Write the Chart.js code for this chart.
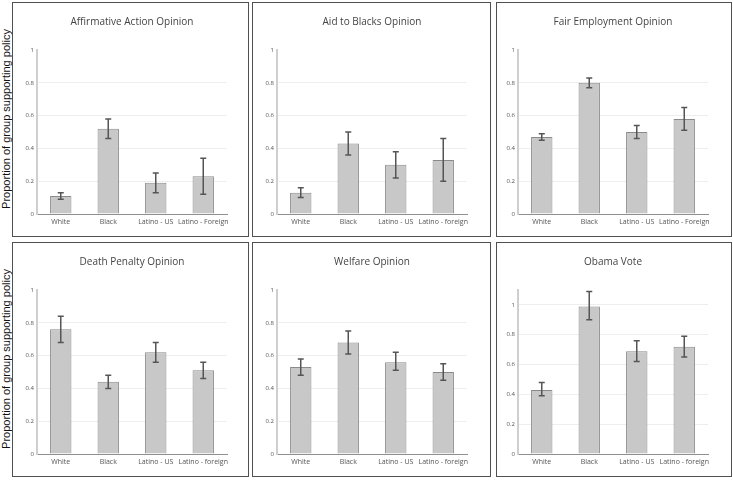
<!DOCTYPE html>
<html>
<head>
<meta charset="utf-8">
<script src="https://cdn.jsdelivr.net/npm/chart.js@4.4.0/dist/chart.umd.min.js"></script>
<style>
  html, body { margin: 0; padding: 0; background: #fff; }
  #wrap { position: relative; width: 733px; height: 481px; overflow: hidden; }
  .panel { position: absolute; box-sizing: border-box; border: 1px solid #505050; background: #fff; }
  .panel canvas { position: absolute; left: 0; top: 0; }
  .ylab { position: absolute; width: 240px; text-align: center; font-family: "Liberation Sans", Arial, sans-serif;
          font-size: 11px; color: #111; transform: translate(-50%, -50%) rotate(-90deg); white-space: nowrap; }
</style>
</head>
<body>
<div id="wrap"></div>
<script>
// ---- data ----
const groupsUpper = ['White', 'Black', 'Latino - US', 'Latino - Foreign'];
const groupsLower = ['White', 'Black', 'Latino - US', 'Latino - foreign'];
const panelTitles = ['Affirmative Action Opinion', 'Aid to Blacks Opinion', 'Fair Employment Opinion',
                     'Death Penalty Opinion', 'Welfare Opinion', 'Obama Vote'];
const yTickValues = [0, 0.2, 0.4, 0.6, 0.8, 1];
const yAxisTitle = 'Proportion of group supporting policy';

const affirmativeMean = [0.11, 0.52, 0.19, 0.23];
const affirmativeLow  = [0.09, 0.46, 0.13, 0.12];
const affirmativeHigh = [0.13, 0.58, 0.25, 0.34];

const aidMean = [0.13, 0.43, 0.30, 0.33];
const aidLow  = [0.10, 0.36, 0.22, 0.20];
const aidHigh = [0.16, 0.50, 0.38, 0.46];

const fairMean = [0.47, 0.80, 0.50, 0.58];
const fairLow  = [0.45, 0.77, 0.46, 0.51];
const fairHigh = [0.49, 0.83, 0.54, 0.65];

const deathMean = [0.76, 0.44, 0.62, 0.51];
const deathLow  = [0.68, 0.40, 0.56, 0.46];
const deathHigh = [0.84, 0.48, 0.68, 0.56];

const welfareMean = [0.53, 0.68, 0.56, 0.50];
const welfareLow  = [0.48, 0.61, 0.51, 0.45];
const welfareHigh = [0.58, 0.75, 0.62, 0.55];

const obamaMean = [0.43, 0.99, 0.69, 0.72];
const obamaLow  = [0.39, 0.90, 0.62, 0.65];
const obamaHigh = [0.48, 1.09, 0.76, 0.79];

const yMaxes = [1, 1, 1, 1, 1, 1.1];

// ---- layout ----
const colLeft  = [12, 252, 496];
const colWidth = [237, 239, 236];
const rowTop   = [2, 242];
const rowHeight = 235;
const colAxis  = [24, 24, 21];   // y-axis width inside canvas
const colPlotW = 190;

const panels = [
  { labels: groupsUpper, mean: affirmativeMean, low: affirmativeLow, high: affirmativeHigh },
  { labels: groupsLower, mean: aidMean, low: aidLow, high: aidHigh },
  { labels: groupsUpper, mean: fairMean, low: fairLow, high: fairHigh },
  { labels: groupsLower, mean: deathMean, low: deathLow, high: deathHigh },
  { labels: groupsLower, mean: welfareMean, low: welfareLow, high: welfareHigh },
  { labels: groupsLower, mean: obamaMean, low: obamaLow, high: obamaHigh }
];

const errorBarPlugin = {
  id: 'errorBars',
  afterDatasetsDraw(chart, args, opts) {
    const ctx = chart.ctx;
    const meta = chart.getDatasetMeta(0);
    const yScale = chart.scales.y;
    ctx.save();
    ctx.strokeStyle = '#555';
    ctx.lineWidth = 1.5;
    meta.data.forEach((bar, i) => {
      const x = bar.x;
      const yLo = yScale.getPixelForValue(opts.low[i]);
      const yHi = yScale.getPixelForValue(opts.high[i]);
      ctx.beginPath();
      ctx.moveTo(x, yLo); ctx.lineTo(x, yHi);
      ctx.moveTo(x - 3, yLo); ctx.lineTo(x + 3, yLo);
      ctx.moveTo(x - 3, yHi); ctx.lineTo(x + 3, yHi);
      ctx.stroke();
    });
    ctx.restore();
  }
};

const wrap = document.getElementById('wrap');
Chart.defaults.font.family = '"Open Sans", sans-serif';

panels.forEach((p, idx) => {
  const col = idx % 3, row = Math.floor(idx / 3);
  const div = document.createElement('div');
  div.className = 'panel';
  div.style.left = colLeft[col] + 'px';
  div.style.top = rowTop[row] + 'px';
  div.style.width = colWidth[col] + 'px';
  div.style.height = rowHeight + 'px';
  const cv = document.createElement('canvas');
  const cw = colWidth[col] - 2, ch = rowHeight - 2;
  cv.width = cw; cv.height = ch;
  cv.style.width = cw + 'px'; cv.style.height = ch + 'px';
  div.appendChild(cv);
  wrap.appendChild(div);

  const ymax = yMaxes[idx];
  new Chart(cv, {
    type: 'bar',
    data: {
      labels: p.labels,
      datasets: [{
        data: p.mean,
        backgroundColor: '#c8c8c8',
        borderColor: '#8a8a8a',
        borderWidth: 1,
        barPercentage: 0.45,
        categoryPercentage: 1
      }]
    },
    options: {
      responsive: false,
      animation: false,
      devicePixelRatio: 1,
      layout: { padding: { left: 0, top: 0, bottom: 0, right: cw - colAxis[col] - colPlotW } },
      plugins: {
        legend: { display: false },
        tooltip: { enabled: false },
        title: {
          display: true,
          text: panelTitles[idx],
          fullSize: false,
          color: '#444',
          font: { family: '"Open Sans", sans-serif', size: 10, weight: 'normal', lineHeight: 1.2 },
          padding: { top: 13, bottom: 22 }
        },
        errorBars: { low: p.low, high: p.high }
      },
      scales: {
        x: {
          grid: { display: false, drawTicks: false },
          border: { display: true, color: '#8f8f8f', width: 1 },
          ticks: { color: '#555', font: { size: 7 }, padding: 4, maxRotation: 0, autoSkip: false },
          afterFit(s) { s.height = 22; }
        },
        y: {
          min: 0,
          max: ymax,
          grid: {
            drawTicks: false,
            lineWidth: 1,
            color: (c) => {
              const v = c.tick ? c.tick.value : 0;
              if (v === 0) return 'rgba(0,0,0,0)';
              if (Math.abs(v - ymax) < 1e-9) return 'rgba(0,0,0,0)';
              return '#eeeeee';
            }
          },
          border: { display: true, color: '#cfcfcf', width: 2 },
          ticks: {
            stepSize: 0.2, includeBounds: false, color: '#555', font: { size: 6 }, padding: 3,
            callback: (v) => String(Number(Number(v).toFixed(2)))
          },
          afterFit(s) { s.width = colAxis[col]; }
        }
      }
    },
    plugins: [errorBarPlugin]
  });
});

// y-axis titles (one per row)
[119, 359].forEach(cy => {
  const d = document.createElement('div');
  d.className = 'ylab';
  d.textContent = yAxisTitle;
  d.style.left = '6px';
  d.style.top = cy + 'px';
  wrap.appendChild(d);
});
</script>
</body>
</html>
